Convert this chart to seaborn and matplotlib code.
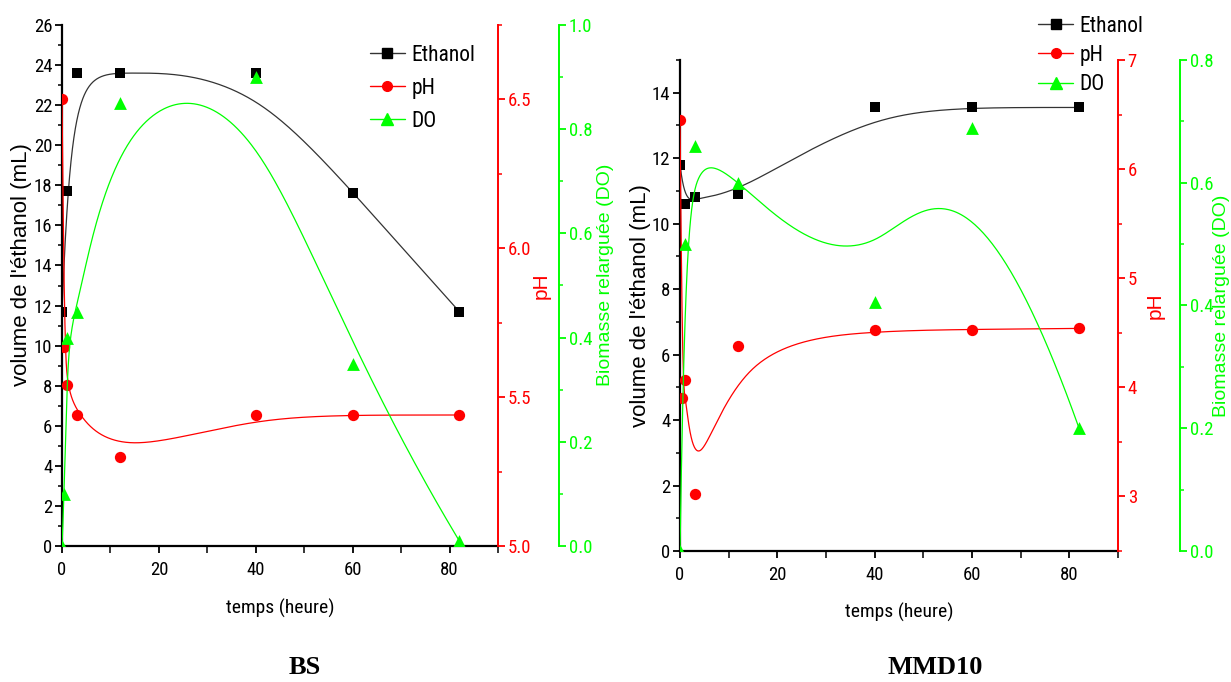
import numpy as np
import pandas as pd
import matplotlib
matplotlib.use("Agg")
import matplotlib.pyplot as plt
from matplotlib import font_manager as fm
from matplotlib.lines import Line2D
from matplotlib.ticker import MultipleLocator, FormatStrFormatter
import seaborn as sns

# ---- data -------------------------------------------------------------
bs_time = [0, 0.5, 1, 3, 12, 40, 60, 82]
bs_ethanol_time = [0, 1, 3, 12, 40, 60, 82]
bs_ethanol = [11.7, 17.7, 23.6, 23.6, 23.6, 17.6, 11.7]
bs_ph = [6.5, 5.67, 5.54, 5.44, 5.30, 5.44, 5.44, 5.44]
bs_do = [0.0, 0.10, 0.40, 0.45, 0.85, 0.90, 0.35, 0.01]

mmd_ph_time = [0, 0.5, 1, 3, 12, 40, 60, 82]
mmd_time = [0, 1, 3, 12, 40, 60, 82]
mmd_ethanol = [11.8, 10.6, 10.8, 10.9, 13.55, 13.55, 13.55]
mmd_ph = [6.45, 3.90, 4.07, 3.02, 4.38, 4.53, 4.53, 4.54]
mmd_do = [0.0, 0.50, 0.66, 0.60, 0.405, 0.69, 0.20]

series_names = ["Ethanol", "pH", "DO"]
xlabel = "temps (heure)"
ylabel_ethanol = "volume de l'éthanol (mL)"
ylabel_ph = "pH"
ylabel_do = "Biomasse relarguée (DO)"
panel_titles = ["BS", "MMD10"]

# ---- style ------------------------------------------------------------
sns.set_theme(style="white")
plt.rcParams["font.family"] = ["Liberation Sans", "DejaVu Sans"]
BLACK, RED, GREEN = "#000000", "#ff0000", "#00ff00"
CURVE_BLACK = "#333333"

# a narrow sans face for ticks, legend and x label when one is installed
_families = {f.name for f in fm.fontManager.ttflist}
NARROW_PROPS = dict(family=["Liberation Sans", "DejaVu Sans"], stretch="normal")
for cand in ["Liberation Sans Narrow", "Arial Narrow", "Roboto Condensed",
             "Open Sans Condensed", "DejaVu Sans Condensed"]:
    if cand in _families:
        NARROW_PROPS = dict(family=[cand, "DejaVu Sans"], stretch="normal")
        break
else:
    cond = [f for f in fm.fontManager.ttflist
            if f.stretch in ("condensed", "semi-condensed", 600, 700)
            and f.style == "normal" and f.weight in ("normal", 400, "regular")]
    if cond:
        NARROW_PROPS = dict(family=[cond[0].name, "DejaVu Sans"],
                            stretch="condensed")


def narrow(size):
    return fm.FontProperties(size=size, **NARROW_PROPS)


def bspline(xs, ys, n=600, k=3):
    """Clamped uniform B-spline using the data points as control points."""
    P = np.column_stack([xs, ys]).astype(float)
    m = len(P)
    k = min(k, m - 1)
    knots = np.concatenate([np.zeros(k + 1), np.arange(1, m - k),
                            np.full(k + 1, m - k)]).astype(float)
    u = np.linspace(0, m - k, n)
    N = np.zeros((n, len(knots) - 1))
    for i in range(len(knots) - 1):
        N[:, i] = (knots[i] <= u) & (u < knots[i + 1])
    N[u >= knots[-1], m - 1] = 1.0
    for d in range(1, k + 1):
        Nn = np.zeros((n, len(knots) - 1 - d))
        for i in range(len(knots) - 1 - d):
            a = knots[i + d] - knots[i]
            b = knots[i + d + 1] - knots[i + 1]
            left = (u - knots[i]) / a * N[:, i] if a > 0 else 0.0
            right = (knots[i + d + 1] - u) / b * N[:, i + 1] if b > 0 else 0.0
            Nn[:, i] = left + right
        N = Nn
    C = N @ P
    return C[:, 0], C[:, 1]


def draw_series(ax, t, v, color, curve_color, marker, size):
    cx, cy = bspline(t, v)
    sns.lineplot(x=cx, y=cy, ax=ax, color=curve_color, lw=0.9,
                 sort=False, estimator=None, legend=False)
    sns.scatterplot(x=t, y=v, ax=ax, color=color, marker=marker, s=size,
                    linewidth=0, legend=False, zorder=4)


def style_y(ax, color, major, minor, fmt, labelsize=13.5):
    ax.tick_params(axis="y", which="major", direction="out", length=5,
                   width=1.3, colors=color, pad=2)
    ax.tick_params(axis="y", which="minor", direction="out", length=3,
                   width=1.1, colors=color)
    ax.yaxis.set_major_locator(MultipleLocator(major))
    ax.yaxis.set_minor_locator(MultipleLocator(minor))
    ax.yaxis.set_major_formatter(FormatStrFormatter(fmt))
    for lab in ax.get_yticklabels():
        lab.set_fontproperties(narrow(labelsize))


def panel(fig, rect, spec):
    ax = fig.add_axes(rect)
    ax_ph = ax.twinx()
    ax_do = ax.twinx()
    ax.set_facecolor("white")

    draw_series(ax, spec["et_t"], spec["et"], BLACK, CURVE_BLACK, "s", 56)
    draw_series(ax_ph, spec["ph_t"], spec["ph"], RED, RED, "o", 66)
    draw_series(ax_do, spec["do_t"], spec["do"], GREEN, GREEN, "^", 85)

    ax.set_xlim(0, 90)
    ax.set_ylim(*spec["et_lim"])
    ax_ph.set_ylim(*spec["ph_lim"])
    ax_do.set_ylim(*spec["do_lim"])

    # spines
    for s in ["top", "right"]:
        ax.spines[s].set_visible(False)
    for a in (ax_ph, ax_do):
        for s in ["top", "left", "bottom"]:
            a.spines[s].set_visible(False)
    ax.spines["left"].set_color(BLACK)
    ax.spines["bottom"].set_color(BLACK)
    ax.spines["left"].set_linewidth(1.6)
    ax.spines["bottom"].set_linewidth(1.6)
    ax_ph.spines["right"].set_color(RED)
    ax_ph.spines["right"].set_linewidth(1.4)
    ax_do.spines["right"].set_color(GREEN)
    ax_do.spines["right"].set_linewidth(1.4)
    ax_do.spines["right"].set_position(("axes", spec["do_pos"]))

    # ticks
    ax.tick_params(axis="x", which="major", direction="out", length=5,
                   width=1.3, colors=BLACK, pad=6)
    ax.tick_params(axis="x", which="minor", direction="out", length=5,
                   width=1.1, colors=BLACK)
    ax.xaxis.set_major_locator(MultipleLocator(20))
    ax.xaxis.set_minor_locator(MultipleLocator(10))
    ax.tick_params(axis="x", which="both", bottom=True)
    ax.tick_params(axis="y", which="both", left=True)
    for lab in ax.get_xticklabels():
        lab.set_fontproperties(narrow(13.5))
    style_y(ax, BLACK, spec["et_major"], spec["et_major"] / 2, "%d")
    style_y(ax_ph, RED, spec["ph_major"], spec["ph_major"] / 2, spec["ph_fmt"])
    style_y(ax_do, GREEN, 0.2, 0.1, "%.1f")

    # axis labels
    ax.set_xlabel(xlabel, fontproperties=narrow(14), color=BLACK, va="center")
    ax.xaxis.set_label_coords(0.5, spec["xlab_y"])
    ax.set_ylabel(ylabel_ethanol, fontsize=spec["yl_size"], color=BLACK,
                  va="center")
    ax.yaxis.set_label_coords(spec["yl_x"], spec["yl_y"])
    ax_ph.set_ylabel(ylabel_ph, fontsize=15, color=RED, va="center", rotation=90)
    ax_ph.yaxis.set_label_coords(spec["ph_x"], 0.5)
    ax_do.set_ylabel(ylabel_do, fontsize=14, color=GREEN, va="center",
                     rotation=90)
    ax_do.yaxis.set_label_coords(spec["do_x"], spec["do_y"])

    # legend
    handles = [
        Line2D([], [], color=CURVE_BLACK, lw=1.0, marker="s", ms=7,
               mfc=BLACK, mec=BLACK),
        Line2D([], [], color=RED, lw=1.0, marker="o", ms=7, mfc=RED, mec=RED),
        Line2D([], [], color=GREEN, lw=1.0, marker="^", ms=8, mfc=GREEN, mec=GREEN),
    ]
    leg = ax_do.legend(handles, series_names, loc="upper left",
                       bbox_to_anchor=spec["leg_anchor"], frameon=False,
                       prop=narrow(15.5),
                       handlelength=1.6, handletextpad=0.3,
                       labelspacing=spec["leg_spacing"], borderpad=0,
                       borderaxespad=0)
    for txt in leg.get_texts():
        txt.set_color(BLACK)
    return ax


fig = plt.figure(figsize=(12.31, 6.82), dpi=100)
fig.patch.set_facecolor("white")

W, H = 1231.0, 682.0

bs_spec = dict(
    et_t=bs_ethanol_time, et=bs_ethanol, ph_t=bs_time, ph=bs_ph,
    do_t=bs_time, do=bs_do,
    et_lim=(0, 26), ph_lim=(5.0, 6.75), do_lim=(0, 1.0),
    et_major=2, ph_major=0.5, ph_fmt="%.1f", do_pos=1 + 61 / 436,
    xlab_y=-0.119, yl_x=-0.094, yl_y=0.54, yl_size=16,
    ph_x=1.099, do_x=1.247, do_y=0.52,
    leg_anchor=(0.707, 0.962), leg_spacing=0.56,
)
mmd_spec = dict(
    et_t=mmd_time, et=mmd_ethanol, ph_t=mmd_ph_time, ph=mmd_ph,
    do_t=mmd_time, do=mmd_do,
    et_lim=(0, 15), ph_lim=(2.5, 7.0), do_lim=(0, 0.8),
    et_major=2, ph_major=1, ph_fmt="%d", do_pos=1 + 62 / 438,
    xlab_y=-0.125, yl_x=-0.091, yl_y=0.50, yl_size=16,
    ph_x=1.085, do_x=1.236, do_y=0.50,
    leg_anchor=(0.818, 1.09), leg_spacing=0.38,
)

panel(fig, [62 / W, (H - 546) / H, 436 / W, 521 / H], bs_spec)
panel(fig, [680 / W, (H - 551) / H, 438 / W, 491 / H], mmd_spec)

# panel names under each chart
title_font = dict(ha="center", va="center", fontsize=19, fontweight="bold",
                  family=["Liberation Serif", "DejaVu Serif"], color=BLACK)
fig.text(305 / W, 1 - 668 / H, panel_titles[0], **title_font)
fig.text(935 / W, 1 - 668 / H, panel_titles[1], **title_font)

fig.savefig("out.png", dpi=100, facecolor="white")
